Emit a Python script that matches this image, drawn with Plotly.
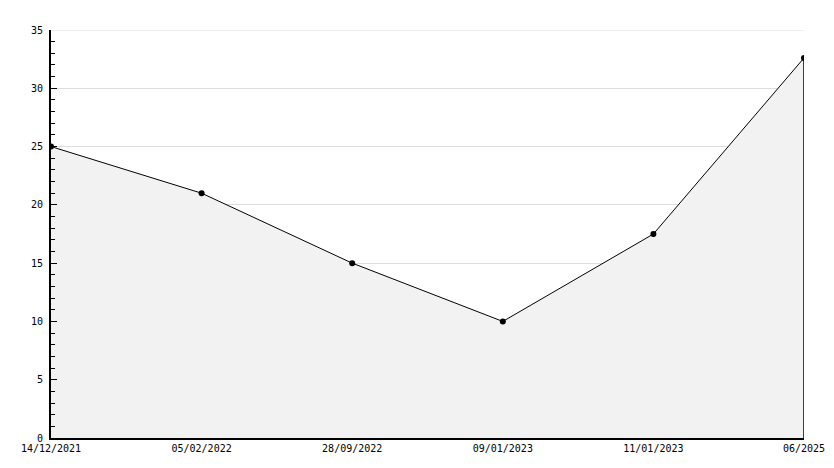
import plotly.graph_objects as go

categories = ["14/12/2021", "05/02/2022", "28/09/2022", "09/01/2023", "11/01/2023", "06/2025"]
values = [25, 21, 15, 10, 17.5, 32.6]
y_max = 35

xs = list(range(len(categories)))

fig = go.Figure()
fig.add_trace(go.Scatter(
    x=xs, y=values, mode="lines+markers",
    line=dict(color="black", width=1),
    marker=dict(color="black", size=6, symbol="circle"),
    fill="tozeroy", fillcolor="#f2f2f2",
    hoverinfo="skip", showlegend=False,
))
# right edge of the filled area
fig.add_trace(go.Scatter(
    x=[xs[-1], xs[-1]], y=[0, values[-1]], mode="lines",
    line=dict(color="black", width=1.5),
    hoverinfo="skip", showlegend=False,
))

# page body has an 8px default margin, so offset margins accordingly
fig.update_layout(
    width=834, height=468,
    margin=dict(l=43, r=38, t=22, b=38, autoexpand=False),
    paper_bgcolor="white", plot_bgcolor="white",
    font=dict(family="DejaVu Sans Mono", size=10, color="black"),
    xaxis=dict(
        range=[0, len(categories) - 1],
        tickvals=xs, ticktext=categories,
        showgrid=False, zeroline=False, automargin=False,
        showline=True, linecolor="black", linewidth=2,
        ticks="", ticklabelstandoff=0,
    ),
    yaxis=dict(
        range=[0, y_max], dtick=5, automargin=False,
        showgrid=True, gridcolor="#dddddd", gridwidth=1,
        zeroline=False,
        showline=True, linecolor="black", linewidth=2,
        ticks="inside", ticklen=6, tickcolor="black", tickwidth=1,
        minor=dict(dtick=1, ticks="inside", ticklen=4, tickcolor="black", showgrid=False),
        ticklabelstandoff=4,
    ),
    shapes=[dict(type="line", xref="paper", x0=0, x1=1, yref="y", y0=y_max, y1=y_max,
                 line=dict(color="#dddddd", width=1), layer="below")],
)

fig.write_html("out.html")
